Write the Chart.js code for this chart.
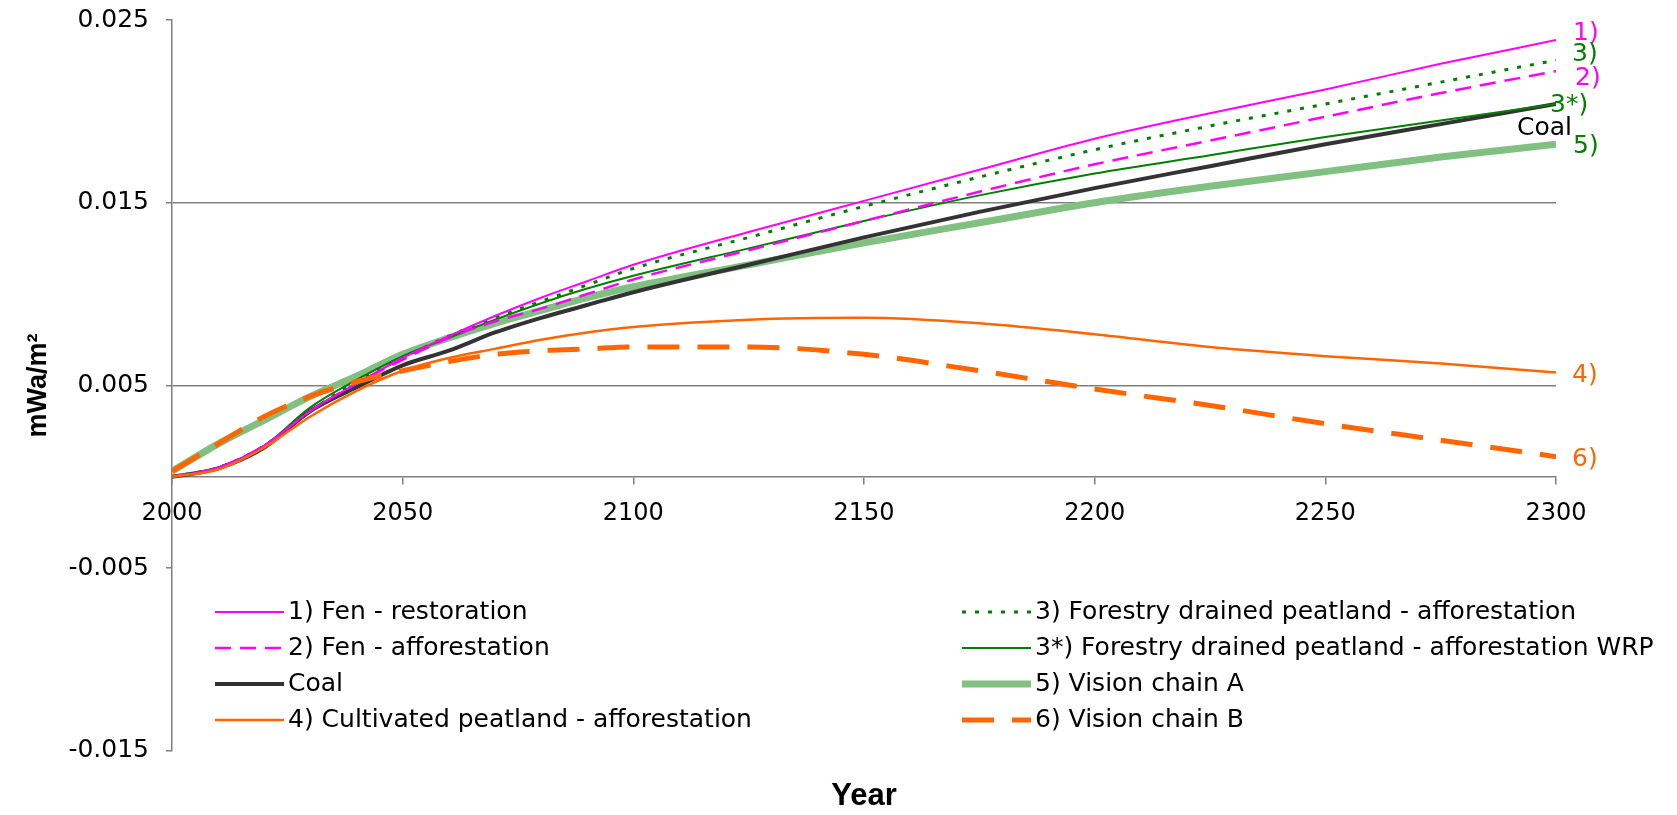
<!DOCTYPE html>
<html>
<head>
<meta charset="utf-8">
<script src="https://cdn.jsdelivr.net/npm/chart.js@4.4.1/dist/chart.umd.min.js"></script>
<style>
  html, body { margin: 0; padding: 0; background: #fff; }
  #wrap { width: 1677px; height: 815px; }
</style>
</head>
<body>
<div id="wrap"><canvas id="c"></canvas></div>
<script>
// years on the x axis (denser where the curves bend)
const years = [2000, 2010, 2020, 2030, 2040, 2050, 2060, 2070, 2080, 2090, 2100,
               2125, 2150, 2175, 2200, 2225, 2250, 2275, 2300];

// series (mWa/m2)
const fenRestoration = [0, 0.0005, 0.0017, 0.0036, 0.0051, 0.0065, 0.0077, 0.0088, 0.0098, 0.0107, 0.0116,
                        0.0134, 0.0151, 0.0168, 0.0185, 0.0199, 0.0212, 0.0226, 0.0239];
const forestryAff    = [0, 0.0005, 0.0017, 0.0036, 0.0052, 0.0065, 0.0077, 0.0087, 0.0096, 0.0105, 0.0114,
                        0.0131, 0.0148, 0.0164, 0.0179, 0.0192, 0.0204, 0.0216, 0.0228];
const fenAff         = [0, 0.0005, 0.0017, 0.0036, 0.0051, 0.0064, 0.0076, 0.0085, 0.0092, 0.0100, 0.0108,
                        0.0124, 0.0140, 0.0156, 0.0171, 0.0184, 0.0197, 0.0210, 0.0222];
const forestryWRP    = [0, 0.0005, 0.0017, 0.0038, 0.0053, 0.0066, 0.0076, 0.0086, 0.0095, 0.0103, 0.0110,
                        0.0125, 0.0140, 0.0154, 0.0166, 0.0176, 0.0186, 0.0195, 0.0204];
const coal           = [0, 0.00046, 0.0016, 0.0036, 0.0049, 0.0061, 0.0069, 0.0079, 0.0087, 0.0094, 0.0101,
                        0.0116, 0.0131, 0.0145, 0.0158, 0.0170, 0.0182, 0.0193, 0.0204];
const visionA        = [0.0003, 0.0018, 0.0031, 0.0044, 0.0055, 0.0067, 0.0076, 0.0084, 0.0091, 0.0098, 0.0104,
                        0.0116, 0.0128, 0.0139, 0.0150, 0.0159, 0.0167, 0.0175, 0.0182];
const cultivated     = [0, 0.0004, 0.0016, 0.0033, 0.0047, 0.0058, 0.0065, 0.0070, 0.0075, 0.0079, 0.0082,
                        0.0086, 0.0087, 0.0084, 0.0078, 0.0071, 0.0066, 0.0062, 0.0057];
const visionB        = [0.0003, 0.0018, 0.0033, 0.0044, 0.0052, 0.0058, 0.0063, 0.0067, 0.0069, 0.0070, 0.0071,
                        0.0071, 0.0067, 0.0058, 0.0048, 0.0039, 0.0029, 0.0020, 0.0011];

// legend names and the short tags written at the right end of each line
const seriesNames = ['1) Fen - restoration', '3) Forestry drained peatland - afforestation',
                     '2) Fen - afforestation', '3*) Forestry drained peatland - afforestation WRP',
                     'Coal', '5) Vision chain A',
                     '4) Cultivated peatland - afforestation', '6) Vision chain B'];
const endTags = ['1)', '3)', '2)', '3*)', 'Coal', '5)', '4)', '6)'];

// y tick range
const yMin = -0.015, yMax = 0.025, yStep = 0.01;
const gridAt = [0.005, 0.015];

const pts = vals => years.map((x, i) => ({x, y: vals[i]}));

// legend drawn in two fixed columns like the original
const legendGrid = {
  id: 'legendGrid',
  afterDraw(chart, args, opts) {
    const {ctx} = chart;
    ctx.save();
    ctx.font = '25px "DejaVu Sans"';
    ctx.textBaseline = 'middle';
    ctx.textAlign = 'left';
    chart.data.datasets.forEach((ds, i) => {
      const x = opts.cols[i % 2];
      const y = opts.top + Math.floor(i / 2) * opts.rowGap;
      ctx.strokeStyle = ds.borderColor;
      ctx.lineWidth = ds.borderWidth;
      ctx.setLineDash(ds.borderDash || []);
      ctx.beginPath();
      ctx.moveTo(x, y);
      ctx.lineTo(x + opts.sample, y);
      ctx.stroke();
      ctx.setLineDash([]);
      ctx.fillStyle = '#000';
      ctx.fillText(ds.label, x + opts.sample + opts.gap, y);
    });
    ctx.restore();
  }
};

// tags next to the last point of each line
const endLabels = {
  id: 'endLabels',
  afterDatasetsDraw(chart, args, opts) {
    const {ctx} = chart;
    ctx.save();
    ctx.font = '25px "DejaVu Sans"';
    ctx.textBaseline = 'middle';
    ctx.textAlign = 'left';
    chart.data.datasets.forEach((ds, i) => {
      const meta = chart.getDatasetMeta(i);
      const p = meta.data[meta.data.length - 1];
      const [dx, dy] = opts.offsets[i];
      ctx.fillStyle = opts.colors[i];
      ctx.fillText(endTags[i], p.x + dx, p.y + dy);
    });
    ctx.restore();
  }
};

Chart.defaults.font.family = '"DejaVu Sans"';
Chart.defaults.color = '#000';

const line = (label, vals, color, width, dash, order) => ({
  label, data: pts(vals), borderColor: color, backgroundColor: color,
  borderWidth: width, borderDash: dash, order,
  pointRadius: 0, fill: false, cubicInterpolationMode: 'monotone'
});

new Chart(document.getElementById('c'), {
  type: 'line',
  data: {
    datasets: [
      line(seriesNames[0], fenRestoration, '#FF00FF', 2, [], 3),
      line(seriesNames[1], forestryAff, '#008000', 3, [4, 9], 4),
      line(seriesNames[2], fenAff, '#FF00FF', 2.5, [16, 9], 5),
      line(seriesNames[3], forestryWRP, '#008000', 2, [], 6),
      line(seriesNames[4], coal, '#333333', 4, [], 7),
      line(seriesNames[5], visionA, '#80C080', 7, [], 8),
      line(seriesNames[6], cultivated, '#FF6600', 2.5, [], 2),
      line(seriesNames[7], visionB, '#FF6600', 5, [32, 18], 1)
    ]
  },
  options: {
    responsive: true,
    maintainAspectRatio: false,
    animation: false,
    layout: { padding: { top: 20, right: 121, bottom: 0, left: 0 } },
    scales: {
      y: {
        min: yMin, max: yMax,
        ticks: { stepSize: yStep, callback: v => v.toFixed(3), font: { size: 25 }, color: '#000', padding: 17 },
        grid: {
          color: c => gridAt.some(g => Math.abs(g - c.tick.value) < 1e-9) ? '#808080' : 'rgba(0,0,0,0)',
          tickColor: '#808080', tickLength: 6, lineWidth: 1.5
        },
        border: { color: '#808080', width: 1.5 },
        title: {
          display: true, text: 'mWa/m²', color: '#000',
          font: { family: '"Liberation Sans"', size: 27, weight: 'bold' },
          padding: { top: 22, bottom: 0 }
        },
        afterFit(scale) {
          scale.width = 172;
          // keep the tick padding from pushing the plot down
          scale.paddingTop = 14;
          scale.paddingBottom = 14;
        }
      },
      x: {
        type: 'linear', min: 2000, max: 2300, position: { y: 0 },
        ticks: { stepSize: 50, callback: v => String(v), font: { size: 24 }, color: '#000', padding: 16, maxRotation: 0 },
        grid: { drawOnChartArea: false, tickLength: 7, tickColor: '#808080', lineWidth: 1.5 },
        border: { color: '#808080', width: 1.5 }
      }
    },
    plugins: {
      legend: { display: false },
      tooltip: { enabled: false },
      title: {
        display: true, text: 'Year', position: 'bottom', fullSize: false, color: '#000',
        font: { family: '"Liberation Sans"', size: 31, weight: 'bold' },
        padding: { top: 27, bottom: 0 }
      },
      legendGrid: { cols: [215, 962], top: 612, rowGap: 36, sample: 69, gap: 4 },
      endLabels: {
        offsets: [[17, -7], [16, -6], [19, 7], [-6, 1], [-39, 24], [17, 2], [16, 3], [16, 3]],
        colors: ['#FF00FF', '#008000', '#FF00FF', '#008000', '#000000', '#008000', '#FF6600', '#FF6600']
      }
    }
  },
  plugins: [legendGrid, endLabels]
});
</script>
</body>
</html>
